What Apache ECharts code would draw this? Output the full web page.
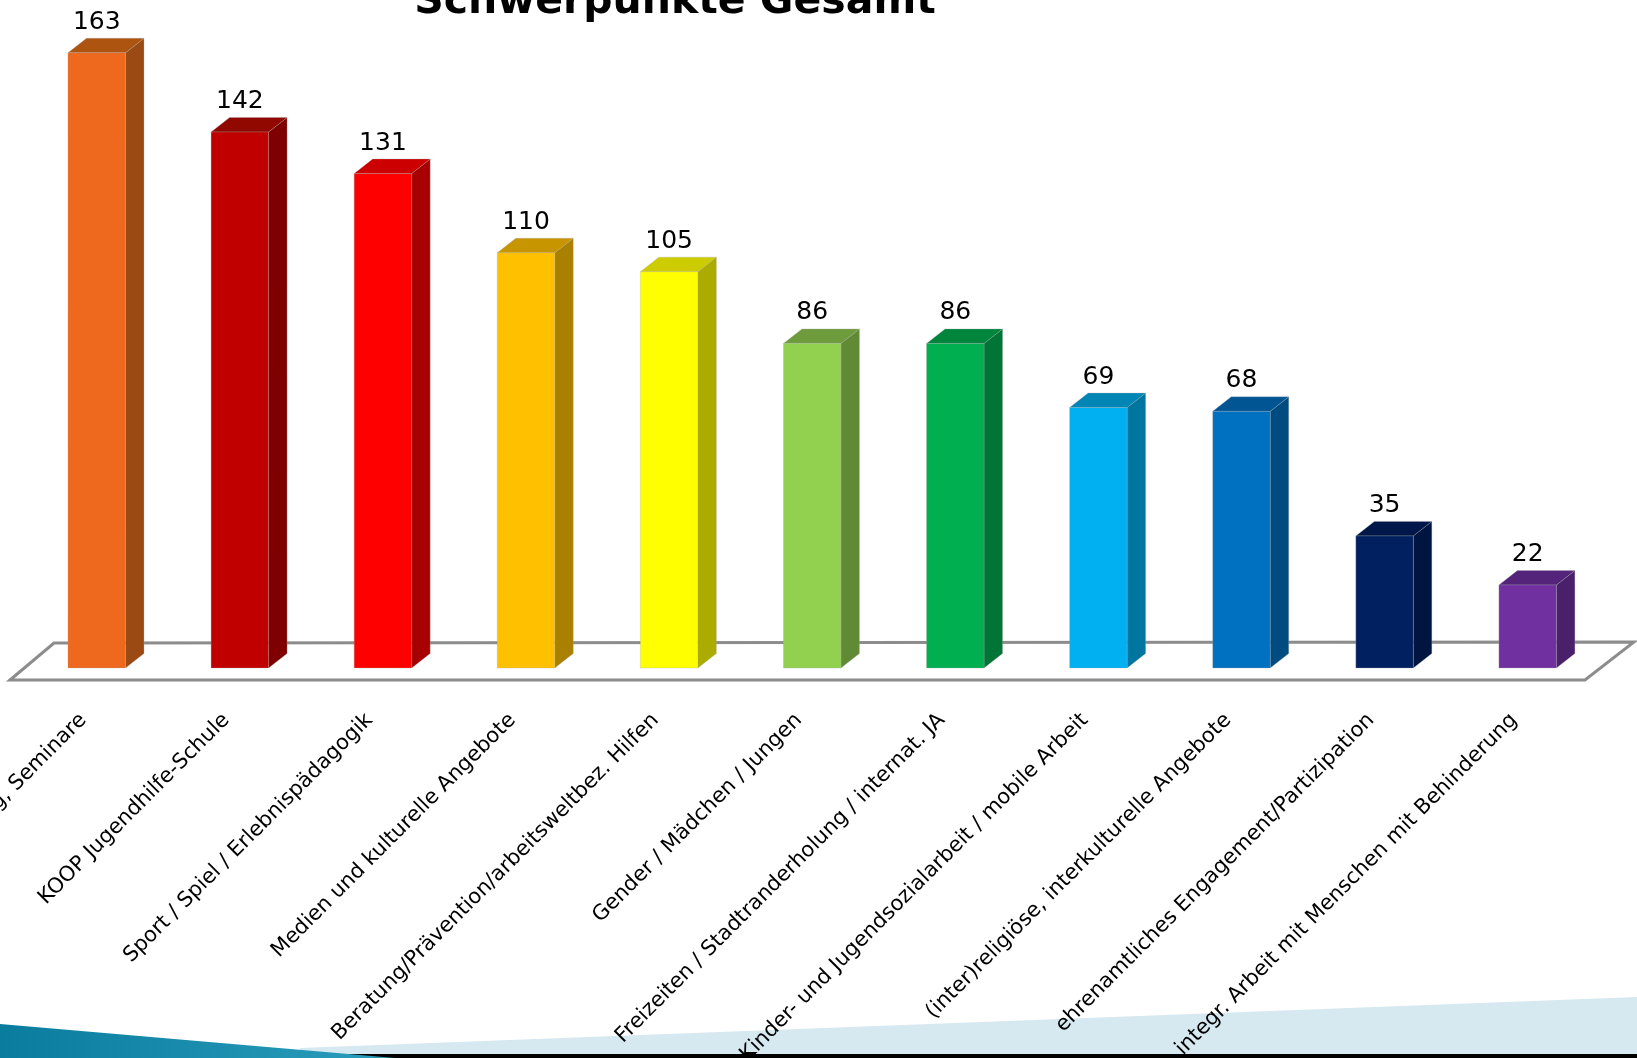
<!DOCTYPE html>
<html><head><meta charset="utf-8">
<style>html,body{margin:0;padding:0;background:#fff}#c{width:1637px;height:1058px}</style>
<script src="https://cdn.jsdelivr.net/npm/echarts@6/dist/echarts.min.js"></script>
</head><body><div id="c"></div>
<script>
const titleText = 'Schwerpunkte Gesamt';
const categories = ['Bildung, Seminare','KOOP Jugendhilfe-Schule','Sport / Spiel / Erlebnispädagogik','Medien und kulturelle Angebote','Beratung/Prävention/arbeitsweltbez. Hilfen','Gender / Mädchen / Jungen','Freizeiten / Stadtranderholung / internat. JA','Kinder- und Jugendsozialarbeit / mobile Arbeit','(inter)religiöse, interkulturelle Angebote','ehrenamtliches Engagement/Partizipation','integr. Arbeit mit Menschen mit Behinderung'];
const values = [163,142,131,110,105,86,86,69,68,35,22];
const frontColors = ['#EE681E','#C00000','#FF0000','#FFC000','#FFFF00','#92D050','#00B050','#00B0F0','#0070C0','#002060','#7030A0'];
const sideColors  = ['#9C4A14','#7E0000','#A80000','#A98000','#ABAB00','#618A35','#007535','#0075A0','#004B80','#001540','#4B206B'];
const topColors   = ['#AD5410','#900800','#CC0000','#C79500','#CCCC00','#6E9C3C','#00853C','#0085B5','#005592','#001849','#54247A'];

const FONT = '"DejaVu Sans", sans-serif';
const W = 57.5, DX = 18.5, DY = 14.5;

function renderBar(params, api) {
  const i = api.value(0), v = api.value(1);
  const base = api.coord([i, 0]), top = api.coord([i, v]);
  const l = base[0] - W / 2, r = base[0] + W / 2, b = base[1], t = top[1];
  const edge = {stroke: 'rgba(170,170,170,0.3)', lineWidth: 1};
  return {type: 'group', children: [
    {type: 'polygon', shape: {points: [[r, t], [r + DX, t - DY], [r + DX, b - DY], [r, b]]},
      style: Object.assign({fill: sideColors[i]}, edge)},
    {type: 'polygon', shape: {points: [[l, t], [l + DX, t - DY], [r + DX, t - DY], [r, t]]},
      style: Object.assign({fill: topColors[i]}, edge)},
    {type: 'rect', shape: {x: l, y: t, width: W, height: b - t},
      style: Object.assign({fill: frontColors[i]}, edge)},
    {type: 'text', style: {text: String(v), x: base[0], y: t - DY - 16, align: 'center', verticalAlign: 'middle',
      font: '25px ' + FONT, fill: '#000'}}
  ]};
}

const chart = echarts.init(document.getElementById('c'), null, {renderer: 'canvas'});
chart.setOption({
  animation: false,
  backgroundColor: '#fff',
  grid: [
    {left: 25.2, width: 1574, top: 52, height: 616, outerBoundsMode: 'none'},
    {left: 11.7, width: 1574, top: 52, height: 616, outerBoundsMode: 'none'}
  ],
  xAxis: [
    {type: 'category', gridIndex: 0, data: categories, axisLine: {show: false}, axisTick: {show: false}, axisLabel: {show: false}},
    {type: 'category', gridIndex: 1, data: categories, axisLine: {show: false}, axisTick: {show: false},
      axisLabel: {show: true, interval: 0, rotate: 45, margin: 49, fontFamily: FONT, fontSize: 21, color: '#000'}}
  ],
  yAxis: [
    {type: 'value', gridIndex: 0, min: 0, max: 163.2, show: false, splitLine: {show: false}},
    {type: 'value', gridIndex: 1, min: 0, max: 163.2, show: false, splitLine: {show: false}}
  ],
  series: [{
    type: 'custom', xAxisIndex: 0, yAxisIndex: 0, clip: false, z: 5,
    renderItem: renderBar,
    encode: {x: 0, y: 1},
    data: values.map((v, i) => [i, v])
  }],
  graphic: [
    {type: 'polygon', z: -2, shape: {points: [[10, 680], [54, 643], [1634, 642], [1585, 680]]},
      style: {fill: '#fff', stroke: '#8C8C8C', lineWidth: 3}},
    {type: 'polygon', z: -3, shape: {points: [[300, 1048], [1637, 997], [1637, 1058], [300, 1058]]},
      style: {fill: '#D6E8F0'}},
    {type: 'rect', z: 30, shape: {x: 345, y: 1054, width: 1292, height: 4}, style: {fill: '#000'}},
    {type: 'polygon', z: 31, shape: {points: [[0, 1024], [395, 1058], [0, 1058]]},
      style: {fill: new echarts.graphic.LinearGradient(0, 0, 1, 0, [{offset: 0, color: '#0A7C9E'}, {offset: 1, color: '#2A9DBC'}])}},
    {type: 'text', z: 20, style: {text: titleText, x: 675, y: 23, align: 'center', verticalAlign: 'bottom',
      font: 'bold 41px ' + FONT, fill: '#000'}}
  ]
});
</script></body></html>
